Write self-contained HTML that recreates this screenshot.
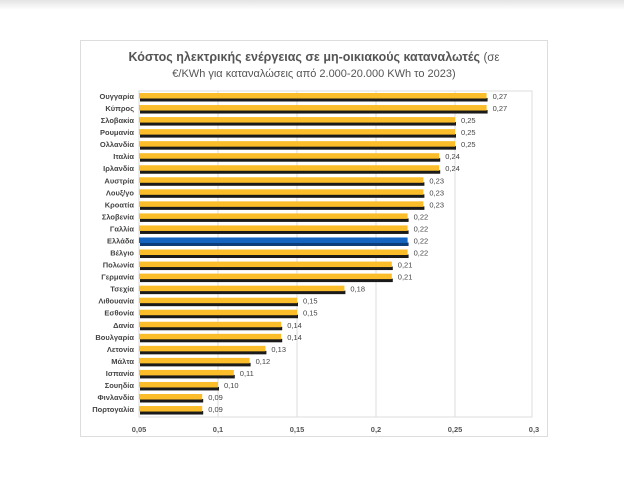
<!DOCTYPE html>
<html><head><meta charset="utf-8"><style>
body{margin:0;width:624px;height:481px;background:#fff;overflow:hidden;font-family:"Liberation Sans","DejaVu Sans",sans-serif;}
#topbar{position:absolute;left:0;top:0;width:624px;height:10px;background:linear-gradient(#e4e4e4,#fff);}
#card{position:absolute;left:80px;top:40px;width:468px;height:397px;border:1px solid #ddd;box-sizing:border-box;}
</style></head><body>
<div id="topbar"></div>
<div id="card"></div>
<svg id="chart" width="624" height="481" style="position:absolute;left:0;top:0">
<text x="314" y="61" text-anchor="middle" font-size="12.5" font-weight="bold" fill="#555">Κόστος ηλεκτρικής ενέργειας σε μη-οικιακούς καταναλωτές <tspan font-weight="normal" font-size="11.5">(σε</tspan></text>
<text x="314" y="77" text-anchor="middle" font-size="11" fill="#555">€/KWh για καταναλώσεις από 2.000-20.000 KWh το 2023)</text>
<g id="grid"></g><g id="bars"></g><g id="labels"></g>
</svg>
<script>
const categories=["Ουγγαρία","Κύπρος","Σλοβακία","Ρουμανία","Ολλανδία","Ιταλία","Ιρλανδία","Αυστρία","Λουξ/γο","Κροατία","Σλοβενία","Γαλλία","Ελλάδα","Βέλγιο","Πολωνία","Γερμανία","Τσεχία","Λιθουανία","Εσθονία","Δανία","Βουλγαρία","Λετονία","Μάλτα","Ισπανία","Σουηδία","Φινλανδία","Πορτογαλία"];
const values=[0.27,0.27,0.25,0.25,0.25,0.24,0.24,0.23,0.23,0.23,0.22,0.22,0.22,0.22,0.21,0.21,0.18,0.15,0.15,0.14,0.14,0.13,0.12,0.11,0.10,0.09,0.09];
const valueLabels=["0,27","0,27","0,25","0,25","0,25","0,24","0,24","0,23","0,23","0,23","0,22","0,22","0,22","0,22","0,21","0,21","0,18","0,15","0,15","0,14","0,14","0,13","0,12","0,11","0,10","0,09","0,09"];
const ticks=[0.05,0.1,0.15,0.2,0.25,0.3];
const tickLabels=["0,05","0,1","0,15","0,2","0,25","0,3"];
const highlight="Ελλάδα";
const NS="http://www.w3.org/2000/svg";
const x0=139,x1=534,vmin=0.05,vmax=0.3;
const xs=v=>x0+(v-vmin)/(vmax-vmin)*(x1-x0);
const y0=98,step=12.04;
const yc=i=>y0+i*step;
function mk(tag,attrs,parent){const e=document.createElementNS(NS,tag);for(const k in attrs)e.setAttribute(k,attrs[k]);parent.appendChild(e);return e;}
const grid=document.getElementById('grid'),bars=document.getElementById('bars'),labels=document.getElementById('labels');
mk('rect',{x:x0,y:91,width:532-x0,height:326,fill:'none',stroke:'#ddd','stroke-width':1},grid);
ticks.forEach((t,i)=>{
  if(i>0&&i<ticks.length-1){const l=mk('line',{x1:xs(t),x2:xs(t),y1:91,y2:417,stroke:'#ddd','stroke-width':1},grid);
  
  }
  const tx=mk('text',{x:xs(t),y:432,'text-anchor':'middle','font-size':7.5,'font-weight':'bold',fill:'#555'},labels);
  tx.textContent=tickLabels[i];
  
  
});
categories.forEach((c,i)=>{
  const y=yc(i),w=xs(values[i])-x0,hl=c===highlight;
  const s=mk('rect',{x:x0+1,y:y,width:w,height:3.5,fill:hl?'#0d3d7a':'#1a1a1a'},bars);
  
  
  const b=mk('rect',{x:x0,y:y-5,width:w,height:5.5,fill:hl?'#1565c0':'#fbbd2a'},bars);
  
  
  const cl=mk('text',{x:134,y:y+1,'text-anchor':'end','font-size':7.5,'font-weight':'bold',fill:'#444'},labels);
  cl.textContent=c;
  
  
  const vl=mk('text',{x:x0+w+6,y:y+1,'font-size':7.5,fill:'#444'},labels);
  vl.textContent=valueLabels[i];
  
  
});
</script>
</body></html>
